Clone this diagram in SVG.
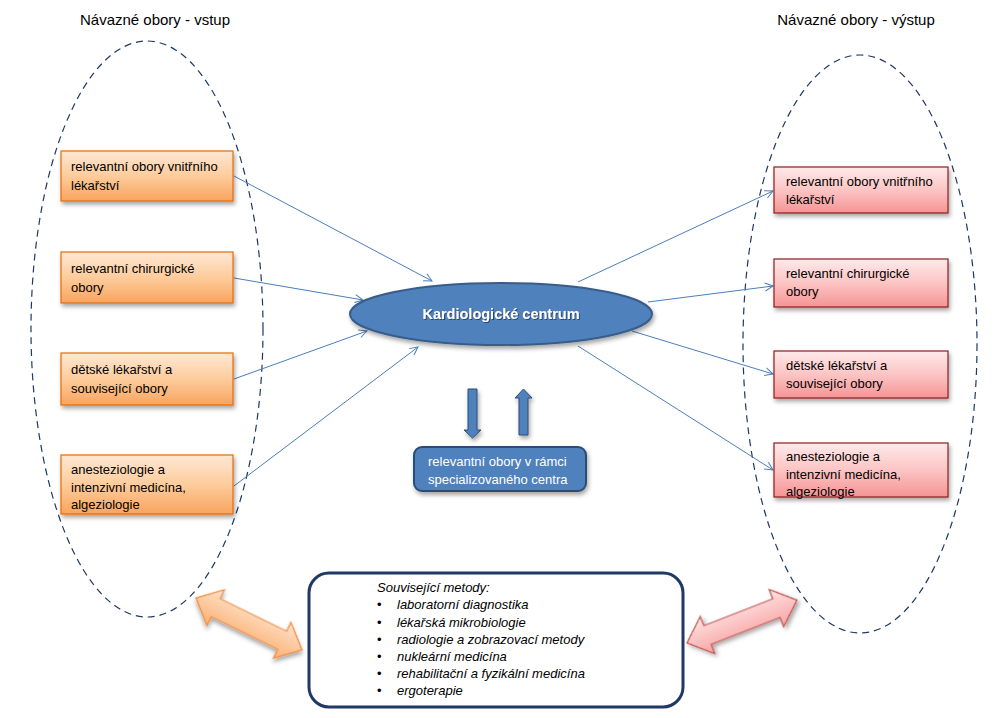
<svg xmlns="http://www.w3.org/2000/svg" width="996" height="718" viewBox="0 0 996 718">
<defs>
<linearGradient id="gOr" x1="0" y1="0" x2="0" y2="1"><stop offset="0" stop-color="#fee8d4"/><stop offset="0.5" stop-color="#fdcc9c"/><stop offset="1" stop-color="#f9a45e"/></linearGradient>
<linearGradient id="gRd" x1="0" y1="0" x2="0" y2="1"><stop offset="0" stop-color="#ffeaea"/><stop offset="0.5" stop-color="#fcc4c4"/><stop offset="1" stop-color="#f59494"/></linearGradient>
<linearGradient id="gOrA" x1="0" y1="0" x2="0" y2="1"><stop offset="0" stop-color="#fee3cc"/><stop offset="1" stop-color="#fbb072"/></linearGradient>
<linearGradient id="gRdA" x1="0" y1="0" x2="0" y2="1"><stop offset="0" stop-color="#ffe3e3"/><stop offset="1" stop-color="#f7a3a3"/></linearGradient>
<filter id="sh" x="-10%" y="-20%" width="130%" height="160%"><feDropShadow dx="1.5" dy="3" stdDeviation="2" flood-color="#000" flood-opacity="0.35"/></filter>
<filter id="tsh" x="-10%" y="-30%" width="120%" height="160%"><feDropShadow dx="1" dy="1" stdDeviation="0.6" flood-color="#1f3864" flood-opacity="0.8"/></filter>
<marker id="ah" markerWidth="10" markerHeight="10" refX="9" refY="5" orient="auto" markerUnits="userSpaceOnUse"><path d="M1,1 L9,5 L1,9" fill="none" stroke="#4a7ebb" stroke-width="1"/></marker>
</defs>
<style>
text{font-family:"Liberation Sans",Arial,sans-serif;}
.title{font-size:15px;fill:#000;text-anchor:middle;}
.bt{font-size:13px;fill:#000;}
.ob{fill:url(#gOr);stroke:#e46c0a;stroke-width:1.2;filter:url(#sh);}
.rb{fill:url(#gRd);stroke:#8c1c1c;stroke-width:1.2;filter:url(#sh);}
.dash{fill:none;stroke:#1f3864;stroke-width:1.2;stroke-dasharray:7,5;}
.con{fill:none;stroke:#4a7ebb;stroke-width:1;marker-end:url(#ah);}
.it{font-size:13px;font-style:italic;fill:#000;}
</style>
<rect width="996" height="718" fill="#fff"/>

<text class="title" x="155" y="25">Návazné obory - vstup</text>
<text class="title" x="856" y="25">Návazné obory - výstup</text>

<ellipse id="groupIn" class="dash" cx="147" cy="329" rx="116" ry="288"/>
<ellipse id="groupOut" class="dash" cx="860" cy="344" rx="117" ry="289"/>

<g id="connectors">
<line class="con" x1="234" y1="176" x2="432" y2="281"/>
<line class="con" x1="234" y1="278" x2="363" y2="300"/>
<line class="con" x1="234" y1="379" x2="367" y2="331"/>
<line class="con" x1="234" y1="486" x2="418" y2="347"/>
<line class="con" x1="578" y1="282" x2="773" y2="191"/>
<line class="con" x1="648" y1="302" x2="773" y2="286"/>
<line class="con" x1="632" y1="331" x2="773" y2="374"/>
<line class="con" x1="578" y1="346" x2="773" y2="470"/>
</g>

<g id="in1"><rect class="ob" x="61" y="151" width="172" height="50"/><text class="bt" x="71" y="171">relevantní obory vnitřního</text><text class="bt" x="71" y="190">lékařství</text></g>
<g id="in2"><rect class="ob" x="61" y="252" width="172" height="51"/><text class="bt" x="71" y="273">relevantní chirurgické</text><text class="bt" x="71" y="292">obory</text></g>
<g id="in3"><rect class="ob" x="61" y="353" width="172" height="52"/><text class="bt" x="71" y="374">dětské lékařství a</text><text class="bt" x="71" y="393">související obory</text></g>
<g id="in4"><rect class="ob" x="61" y="455" width="172" height="59"/><text class="bt" x="71" y="474">anesteziologie a</text><text class="bt" x="71" y="492">intenzivní medicína,</text><text class="bt" x="71" y="509">algeziologie</text></g>

<g id="out1"><rect class="rb" x="774" y="167" width="174" height="46"/><text class="bt" x="786" y="186">relevantní obory vnitřního</text><text class="bt" x="786" y="204">lékařství</text></g>
<g id="out2"><rect class="rb" x="774" y="259" width="174" height="48"/><text class="bt" x="786" y="278">relevantní chirurgické</text><text class="bt" x="786" y="296">obory</text></g>
<g id="out3"><rect class="rb" x="774" y="351" width="174" height="47"/><text class="bt" x="786" y="370">dětské lékařství a</text><text class="bt" x="786" y="388">související obory</text></g>
<g id="out4"><rect class="rb" x="774" y="443" width="174" height="54"/><text class="bt" x="786" y="461">anesteziologie a</text><text class="bt" x="786" y="479">intenzivní medicína,</text><text class="bt" x="786" y="496">algeziologie</text></g>

<g id="center"><ellipse cx="501" cy="314" rx="151" ry="31" fill="#4f81bd" stroke="#385d8a" stroke-width="2" filter="url(#sh)"/><text x="501" y="319" font-size="14.5" font-weight="bold" fill="#fff" text-anchor="middle" filter="url(#tsh)">Kardiologické centrum</text></g>

<g id="arrowDown"><polygon points="468,389 477,389 477,430 481,430 472.5,438 464,430 468,430" fill="#4f81bd" stroke="#2c4d75" stroke-width="1" filter="url(#sh)"/></g>
<g id="arrowUp"><polygon points="519,435 528,435 528,398 532,398 523.5,389 515,398 519,398" fill="#4f81bd" stroke="#2c4d75" stroke-width="1" filter="url(#sh)"/></g>

<g id="spec"><rect x="414" y="447" width="172" height="44" rx="8" fill="#4f81bd" stroke="#2c4d75" stroke-width="2" filter="url(#sh)"/><text x="428" y="466" font-size="13" fill="#fff">relevantní obory v rámci</text><text x="428" y="484" font-size="13" fill="#fff">specializovaného centra</text></g>

<g id="methods"><rect x="309" y="573" width="374" height="134" rx="20" fill="#fff" stroke="#1f3864" stroke-width="3"/>
<text class="it" x="377" y="592">Související metody:</text>
<g class="it"><text x="377" y="609" font-style="normal">•</text><text class="it" x="397" y="609">laboratorní diagnostika</text>
<text x="377" y="627" font-style="normal">•</text><text class="it" x="397" y="627">lékařská mikrobiologie</text>
<text x="377" y="644" font-style="normal">•</text><text class="it" x="397" y="644">radiologie a zobrazovací metody</text>
<text x="377" y="661" font-style="normal">•</text><text class="it" x="397" y="661">nukleární medicína</text>
<text x="377" y="678" font-style="normal">•</text><text class="it" x="397" y="678">rehabilitační a fyzikální medicína</text>
<text x="377" y="695" font-style="normal">•</text><text class="it" x="397" y="695">ergoterapie</text></g>
</g>

<g id="dblOrange" transform="translate(196,598) rotate(26.1)"><polygon points="0,0 22,-20 22,-10 96,-10 96,-20 118,0 96,20 96,10 22,10 22,20" fill="url(#gOrA)" stroke="#f08a3c" stroke-width="1.2" filter="url(#sh)"/></g>
<g id="dblRed" transform="translate(687,643) rotate(-21.3)"><polygon points="0,0 22,-20 22,-10 96,-10 96,-20 118,0 96,20 96,10 22,10 22,20" fill="url(#gRdA)" stroke="#c0504d" stroke-width="1.2" filter="url(#sh)"/></g>
</svg>
